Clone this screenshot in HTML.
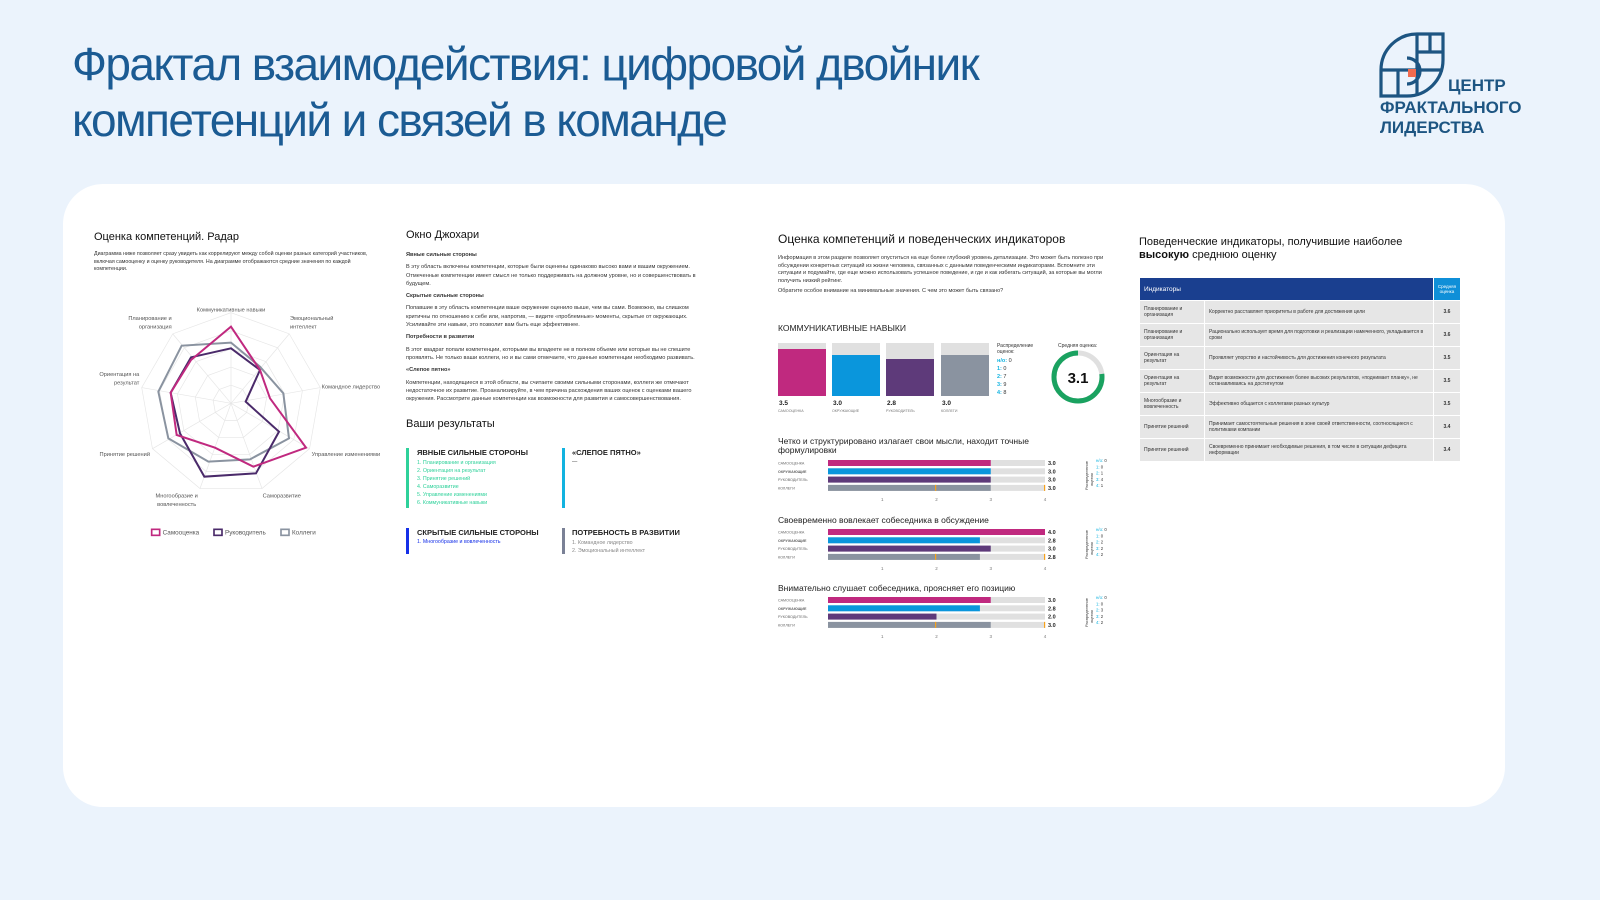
<!DOCTYPE html>
<html><head><meta charset="utf-8"><style>
*{margin:0;padding:0;box-sizing:border-box}
body{width:1600px;height:900px;background:#ebf3fc;font-family:"Liberation Sans",sans-serif;position:relative;overflow:hidden;color:#222}
.a{position:absolute}
h1{position:absolute;left:72px;top:36px;font-weight:400;font-size:46px;line-height:56px;color:#1b5b93;letter-spacing:-1.6px;white-space:nowrap}
.card{position:absolute;left:63px;top:184px;width:1442px;height:623px;background:#fff;border-radius:40px}
.t{font-size:5.3px;line-height:7.6px;color:#333}
.h2{font-size:11px;color:#111}
.b{font-weight:700}
table{border-collapse:separate;border-spacing:1px;font-size:5px;color:#333}
td{background:#e6e6e6;padding:0 4px;height:22px;vertical-align:middle}
</style></head><body>
<h1>Фрактал взаимодействия: цифровой двойник<br>компетенций и связей в команде</h1>

<svg class="a" style="left:1378px;top:32px" width="70" height="70" viewBox="0 0 70 70">
<g fill="none" stroke="#1d5582" stroke-width="3.2">
<path d="M3 64 L3 38 A36 36 0 0 1 39 2 L65 2 L65 28 A36 36 0 0 1 29 64 Z"/>
<line x1="39" y1="2" x2="39" y2="64"/><line x1="3" y1="38" x2="65" y2="38"/>
<line x1="20" y1="38" x2="20" y2="64"/><line x1="39" y1="20" x2="65" y2="20"/>
<line x1="52" y1="2" x2="52" y2="20"/><path d="M29 26 A13 13 0 0 1 29 52"/>
</g><rect x="30" y="37" width="8" height="8" fill="#f26b4e"/></svg>
<div class="a b" style="left:1448px;top:77px;font-size:17px;color:#1d5582;line-height:18px">ЦЕНТР</div>
<div class="a b" style="left:1380px;top:98px;font-size:17px;color:#1d5582;line-height:20px">ФРАКТАЛЬНОГО<br>ЛИДЕРСТВА</div>

<div class="card"></div>

<!-- Radar -->
<div class="a h2" style="left:94px;top:231px">Оценка компетенций. Радар</div>
<div class="a t" style="left:94px;top:251px;width:280px">Диаграмма ниже позволяет сразу увидеть как коррелируют между собой оценки разных категорий участников, включая самооценку и оценку руководителя. На диаграмме отображаются средние значения по каждой компетенции.</div>
<svg class="a" style="left:80px;top:220px" width="320" height="320" viewBox="0 0 960 960">
<g fill="none" stroke="#e6e6e6" stroke-width="2" id="grid"></g>
<polygon fill="none" stroke="#8a93a0" stroke-width="6" points="453,368 540,440 610,520 627,655 510,718 385,725 265,655 235,515 305,377"/>
<polygon fill="none" stroke="#4a2a6a" stroke-width="6" points="453,385 540,450 497,545 597,635 528,760 373,770 300,640 272,518 333,412"/>
<polygon fill="none" stroke="#c0297f" stroke-width="6" points="453,320 540,450 570,535 678,683 520,740 405,683 290,645 272,518 333,420"/>
<g font-family="Liberation Sans" font-size="17" fill="#555">
<text x="453" y="275" text-anchor="middle">Коммуникативные навыки</text>
<text x="630" y="300">Эмоциональный</text><text x="630" y="326">интеллект</text>
<text x="725" y="505">Командное лидерство</text>
<text x="695" y="708">Управление изменениями</text>
<text x="548" y="832">Саморазвитие</text>
<text x="290" y="832" text-anchor="middle">Многообразие и</text><text x="290" y="858" text-anchor="middle">вовлеченность</text>
<text x="210" y="708" text-anchor="end">Принятие решений</text>
<text x="178" y="468" text-anchor="end">Ориентация на</text><text x="178" y="494" text-anchor="end">результат</text>
<text x="275" y="300" text-anchor="end">Планирование и</text><text x="275" y="326" text-anchor="end">организация</text>
<rect x="215" y="928" width="24" height="18" stroke="#c0297f" stroke-width="5" fill="none"/><text x="248" y="944" font-size="19">Самооценка</text>
<rect x="402" y="928" width="24" height="18" stroke="#4a2a6a" stroke-width="5" fill="none"/><text x="435" y="944" font-size="19">Руководитель</text>
<rect x="603" y="928" width="24" height="18" stroke="#8a93a0" stroke-width="5" fill="none"/><text x="636" y="944" font-size="19">Коллеги</text>
</g>
</svg>
<script>
(function(){var g=document.getElementById('grid'),cx=453,cy=550,R=272,s='';
for(var k=1;k<=5;k++){var p=[];for(var i=0;i<9;i++){var a=i*40*Math.PI/180;p.push((cx+R*k/5*Math.sin(a)).toFixed(1)+','+(cy-R*k/5*Math.cos(a)).toFixed(1));}s+='<polygon points="'+p.join(' ')+'"/>';}
for(var i=0;i<9;i++){var a=i*40*Math.PI/180;s+='<line x1="'+cx+'" y1="'+cy+'" x2="'+(cx+R*Math.sin(a))+'" y2="'+(cy-R*Math.cos(a))+'"/>';}
g.innerHTML=s;})();
</script>

<!-- Johari -->
<div class="a h2" style="left:406px;top:229px">Окно Джохари</div>
<div class="a t" style="left:406px;top:251px;width:302px;font-size:5.6px;line-height:8.3px">
<div class="b" style="margin-bottom:4px">Явные сильные стороны</div>
<div style="margin-bottom:4px">В эту область включены компетенции, которые были оценены одинаково высоко вами и вашим окружением. Отмеченные компетенции имеет смысл не только поддерживать на должном уровне, но и совершенствовать в будущем.</div>
<div class="b" style="margin-bottom:4px">Скрытые сильные стороны</div>
<div style="margin-bottom:4px">Попавшие в эту область компетенции ваше окружение оценило выше, чем вы сами. Возможно, вы слишком критичны по отношению к себе или, напротив, — видите «проблемные» моменты, скрытые от окружающих. Усиливайте эти навыки, это позволит вам быть еще эффективнее.</div>
<div class="b" style="margin-bottom:4px">Потребности в развитии</div>
<div style="margin-bottom:4px">В этот квадрат попали компетенции, которыми вы владеете не в полном объеме или которые вы не спешите проявлять. Не только ваши коллеги, но и вы сами отмечаете, что данные компетенции необходимо развивать.</div>
<div class="b" style="margin-bottom:4px">«Слепое пятно»</div>
<div>Компетенции, находящиеся в этой области, вы считаете своими сильными сторонами, коллеги же отмечают недостаточное их развитие. Проанализируйте, в чем причина расхождения ваших оценок с оценками вашего окружения. Рассмотрите данные компетенции как возможности для развития и самосовершенствования.</div>
</div>
<div class="a h2" style="left:406px;top:418px">Ваши результаты</div>
<div class="a" style="left:406px;top:448px;width:3px;height:60px;background:#2ed19a"></div>
<div class="a b" style="left:417px;top:448px;font-size:7.5px">ЯВНЫЕ СИЛЬНЫЕ СТОРОНЫ</div>
<div class="a t" style="left:417px;top:459px;color:#2ed19a;line-height:8.1px">1. Планирование и организация<br>2. Ориентация на результат<br>3. Принятие решений<br>4. Саморазвитие<br>5. Управление изменениями<br>6. Коммуникативные навыки</div>
<div class="a" style="left:562px;top:448px;width:3px;height:60px;background:#12b3e0"></div>
<div class="a b" style="left:572px;top:448px;font-size:7.5px">«СЛЕПОЕ ПЯТНО»</div>
<div class="a t" style="left:572px;top:459px">—</div>
<div class="a" style="left:406px;top:528px;width:3px;height:26px;background:#1530e8"></div>
<div class="a b" style="left:417px;top:528px;font-size:7.5px">СКРЫТЫЕ СИЛЬНЫЕ СТОРОНЫ</div>
<div class="a t" style="left:417px;top:539px;color:#1530e8">1. Многообразие и вовлеченность</div>
<div class="a" style="left:562px;top:528px;width:3px;height:26px;background:#7a8196"></div>
<div class="a b" style="left:572px;top:528px;font-size:7.5px">ПОТРЕБНОСТЬ В РАЗВИТИИ</div>
<div class="a t" style="left:572px;top:539px;color:#888;line-height:8px">1. Командное лидерство<br>2. Эмоциональный интеллект</div>

<!-- Indicators -->
<div class="a h2" style="left:778px;top:232px;font-size:12px">Оценка компетенций и поведенческих индикаторов</div>
<div class="a t" style="left:778px;top:255px;width:335px;font-size:5.5px">Информация в этом разделе позволяет опуститься на еще более глубокий уровень детализации. Это может быть полезно при обсуждении конкретных ситуаций из жизни человека, связанных с данными поведенческими индикаторами. Вспомните эти ситуации и подумайте, где еще можно использовать успешное поведение, и где и как избегать ситуаций, за которые вы могли получить низкий рейтинг.<div style="margin-top:3px">Обратите особое внимание на минимальные значения. С чем это может быть связано?</div></div>
<div class="a" style="left:778px;top:323px;font-size:8.5px;color:#222">КОММУНИКАТИВНЫЕ НАВЫКИ</div>
<svg class="a" style="left:770px;top:335px" width="350" height="85">
<g fill="#e0e0e0"><rect x="8" y="8" width="48" height="53"/><rect x="62" y="8" width="48" height="53"/><rect x="116" y="8" width="48" height="53"/><rect x="171" y="8" width="48" height="53"/></g>
<rect x="8" y="14" width="48" height="47" fill="#c0297f"/><rect x="62" y="20" width="48" height="41" fill="#0a96dc"/><rect x="116" y="24" width="48" height="37" fill="#5e3a7a"/><rect x="171" y="20" width="48" height="41" fill="#8a93a0"/>
<g font-family="Liberation Sans" font-weight="700" font-size="6.5" fill="#222"><text x="9" y="70">3.5</text><text x="63" y="70">3.0</text><text x="117" y="70">2.8</text><text x="172" y="70">3.0</text></g>
<g font-family="Liberation Sans" font-size="3.6" fill="#777"><text x="8" y="77">САМООЦЕНКА</text><text x="62" y="77">ОКРУЖАЮЩИЕ</text><text x="116" y="77">РУКОВОДИТЕЛЬ</text><text x="171" y="77">КОЛЛЕГИ</text></g>
<g font-family="Liberation Sans" font-size="5" fill="#333"><text x="227" y="12">Распределение</text><text x="227" y="18">оценок:</text></g>
<g font-family="Liberation Sans" font-size="5.5" fill="#12b3e0" font-weight="700"><text x="227" y="27">н/о: <tspan fill="#333" font-weight="400">0</tspan></text><text x="227" y="35">1: <tspan fill="#333" font-weight="400">0</tspan></text><text x="227" y="43">2: <tspan fill="#333" font-weight="400">7</tspan></text><text x="227" y="51">3: <tspan fill="#333" font-weight="400">9</tspan></text><text x="227" y="59">4: <tspan fill="#333" font-weight="400">8</tspan></text></g>
<text x="288" y="12" font-family="Liberation Sans" font-size="5" fill="#333">Средняя оценка:</text>
<circle cx="308" cy="42" r="24" fill="none" stroke="#e0e0e0" stroke-width="5"/>
<circle cx="308" cy="42" r="24" fill="none" stroke="#1aa260" stroke-width="5" stroke-dasharray="116 151" transform="rotate(-90 308 42) scale(1,-1) translate(0,-84)"/>
<text x="308" y="48" text-anchor="middle" font-family="Liberation Sans" font-weight="700" font-size="15" fill="#111">3.1</text>
</svg>

<svg class="a" style="left:770px;top:430px" width="350" height="210" font-family="Liberation Sans">
<g id="hb"></g></svg>
<script>
(function(){var blocks=[{y:0,t:['Четко и структурировано излагает свои мысли, находит точные','формулировки'],v:[3,3,3,3],d:['0','0','1','4','1']},
{y:79,t:['Своевременно вовлекает собеседника в обсуждение'],v:[4,2.8,3,2.8],d:['0','0','2','2','2']},
{y:147,t:['Внимательно слушает собеседника, проясняет его позицию'],v:[3,2.8,2,3],d:['0','0','3','2','2']}];
var c=['#c0297f','#0a96dc','#5e3a7a','#8a93a0'],L=['САМООЦЕНКА','ОКРУЖАЮЩИЕ','РУКОВОДИТЕЛЬ','КОЛЛЕГИ'],s='';
blocks.forEach(function(b){var y0=b.y;s+='<text x="8" y="'+(y0+14)+'" font-size="8.5" fill="#222">'+b.t[0]+'</text>';
if(b.t[1])s+='<text x="8" y="'+(y0+23)+'" font-size="8.5" fill="#222">'+b.t[1]+'</text>';
var ry=b.t[1]?y0+30:y0+20;
for(var i=0;i<4;i++){var y=ry+i*8.3;s+='<text x="8" y="'+(y+4.5)+'" font-size="3.7" fill="#666" '+(i==1?'font-weight="700"':'')+'>'+L[i]+'</text>';
s+='<rect x="58" y="'+y+'" width="217" height="6" fill="#e0e0e0"/><rect x="58" y="'+y+'" width="'+(b.v[i]*54.25)+'" height="6" fill="'+c[i]+'"/>';
s+='<text x="278" y="'+(y+5)+'" font-size="5.5" font-weight="700" fill="#222">'+b.v[i].toFixed(1)+'</text>';}
var ky=ry+3*8.3;s+='<rect x="165" y="'+ky+'" width="1.2" height="6" fill="#f7a21b"/><rect x="274" y="'+ky+'" width="1.2" height="6" fill="#f7a21b"/>';
for(var k=1;k<=4;k++)s+='<text x="'+(58+k*54.25)+'" y="'+(ry+41)+'" font-size="4.5" fill="#777" text-anchor="middle">'+k+'</text>';
s+='<text transform="translate(318,'+(ry+30)+') rotate(-90)" font-size="4" fill="#333">Распределение</text><text transform="translate(323,'+(ry+26)+') rotate(-90)" font-size="4" fill="#333">оценок</text>';
var lb=['н/о','1','2','3','4'];for(var j=0;j<5;j++)s+='<text x="326" y="'+(ry+j*6.3+2)+'" font-size="4.3" fill="#12b3e0">'+lb[j]+': <tspan fill="#333">'+b.d[j]+'</tspan></text>';});
document.getElementById('hb').innerHTML=s;})();
</script>

<!-- Table -->
<div class="a" style="left:1139px;top:236px;font-size:11px;line-height:13px;color:#111">Поведенческие индикаторы, получившие наиболее<br><b>высокую</b> среднюю оценку</div>
<table class="a" style="left:1139px;top:277px;width:322px">
<tr><td colspan="2" style="background:#1a3f8f;color:#fff;font-size:6.5px;height:22px;width:284px">Индикаторы</td><td style="background:#0f8fd8;color:#fff;text-align:center;font-size:4.5px">Средняя<br>оценка</td></tr>
<tr><td style="width:64px">Планирование и<br>организация</td><td>Корректно расставляет приоритеты в работе для достижения цели</td><td class="b" style="text-align:center">3.6</td></tr>
<tr><td>Планирование и<br>организация</td><td>Рационально использует время для подготовки и реализации намеченного, укладывается в сроки</td><td class="b" style="text-align:center">3.6</td></tr>
<tr><td>Ориентация на<br>результат</td><td>Проявляет упорство и настойчивость для достижения конечного результата</td><td class="b" style="text-align:center">3.5</td></tr>
<tr><td>Ориентация на<br>результат</td><td>Видит возможности для достижения более высоких результатов, «поднимает планку», не останавливаясь на достигнутом</td><td class="b" style="text-align:center">3.5</td></tr>
<tr><td>Многообразие и<br>вовлеченность</td><td>Эффективно общается с коллегами разных культур</td><td class="b" style="text-align:center">3.5</td></tr>
<tr><td>Принятие решений</td><td>Принимает самостоятельные решения в зоне своей ответственности, соотносящиеся с политиками компании</td><td class="b" style="text-align:center">3.4</td></tr>
<tr><td>Принятие решений</td><td>Своевременно принимает необходимые решения, в том числе в ситуации дефицита информации</td><td class="b" style="text-align:center">3.4</td></tr>
</table>
</body></html>
